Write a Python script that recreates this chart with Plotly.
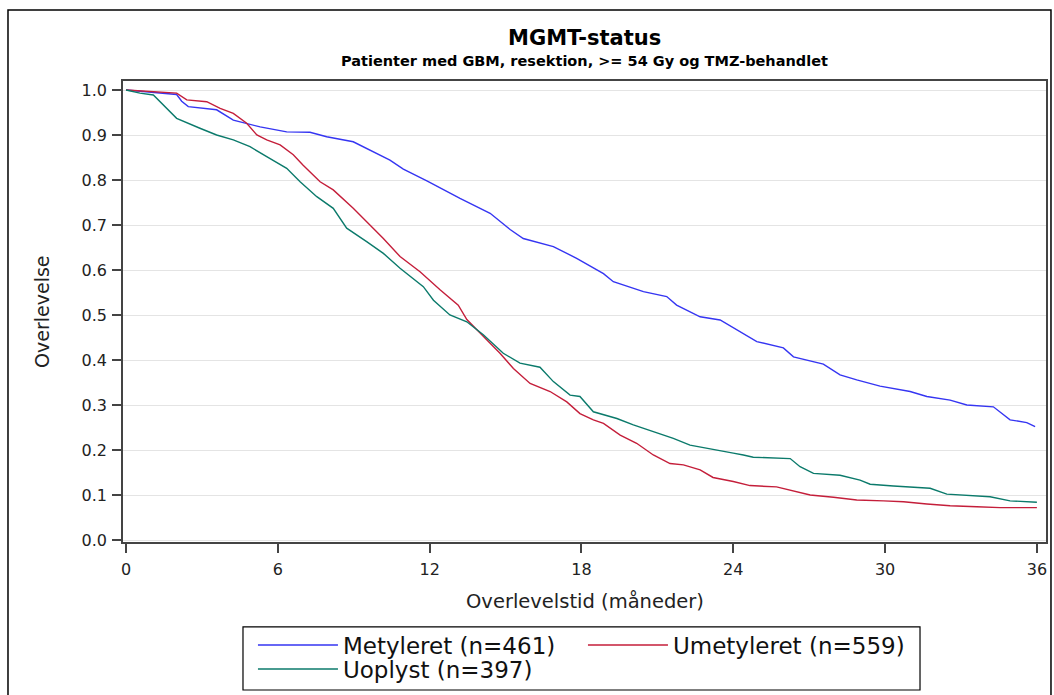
import plotly.graph_objects as go

# Kaplan-Meier survival estimates
blue_name = "Metyleret (n=461)"
blue_t = [0, 2.0, 2.2, 2.46, 3.58, 4.24, 5.3, 6.35, 7.27, 7.93, 8.98, 9.51, 10.43, 10.96, 11.89,
          13.2, 14.39, 15.18, 15.7, 16.89, 17.81, 18.87, 19.26, 20.45, 21.37, 21.76, 22.69, 23.48,
          24.4, 24.93, 25.98, 26.38, 27.56, 28.22, 28.88, 29.8, 30.99, 31.65, 32.57, 33.23, 34.28,
          34.94, 35.6, 35.93]
blue_s = [1.0, 0.990, 0.975, 0.963, 0.956, 0.933, 0.918, 0.907, 0.906, 0.896, 0.885, 0.870, 0.844,
          0.824, 0.798, 0.759, 0.726, 0.690, 0.670, 0.652, 0.626, 0.592, 0.574, 0.552, 0.541, 0.522,
          0.496, 0.489, 0.459, 0.441, 0.427, 0.407, 0.391, 0.367, 0.356, 0.342, 0.330, 0.319, 0.311,
          0.300, 0.296, 0.267, 0.261, 0.252]

red_name = "Umetyleret (n=559)"
red_t = [0, 2.0, 2.4, 3.19, 3.72, 4.24, 4.77, 5.17, 5.56, 6.09, 6.61, 7.0, 7.67, 8.19, 8.98, 9.51,
         10.17, 10.83, 11.62, 12.41, 13.13, 13.47, 14.0, 14.78, 15.31, 15.97, 16.76, 17.42, 17.94,
         18.47, 18.87, 19.53, 20.18, 20.84, 21.5, 22.03, 22.69, 23.2, 24.0, 24.66, 25.71, 26.5,
         27.04, 27.96, 28.88, 29.94, 30.73, 31.65, 32.57, 33.62, 34.55, 36.0]
red_s = [1.0, 0.993, 0.978, 0.974, 0.959, 0.948, 0.926, 0.900, 0.889, 0.878, 0.856, 0.833, 0.796,
         0.778, 0.737, 0.707, 0.670, 0.630, 0.596, 0.556, 0.522, 0.490, 0.459, 0.415, 0.381, 0.348,
         0.330, 0.307, 0.281, 0.267, 0.259, 0.233, 0.215, 0.189, 0.170, 0.167, 0.156, 0.139, 0.130,
         0.121, 0.118, 0.107, 0.100, 0.095, 0.089, 0.087, 0.085, 0.080, 0.076, 0.074, 0.072, 0.072]

green_name = "Uoplyst (n=397)"
green_t = [0, 0.55, 1.08, 1.6, 2.0, 2.92, 3.58, 4.24, 4.9, 5.56, 6.35, 6.88, 7.54, 8.19, 8.72, 9.51,
           10.17, 10.83, 11.75, 12.15, 12.8, 13.47, 14.12, 14.91, 15.57, 16.36, 16.89, 17.55, 17.94,
           18.47, 19.4, 20.05, 20.84, 21.63, 22.29, 23.08, 24.0, 24.4, 24.79, 26.25, 26.64, 27.17,
           28.22, 29.01, 29.41, 30.33, 31.78, 32.44, 34.15, 34.94, 36.0]
green_s = [1.0, 0.993, 0.989, 0.959, 0.937, 0.915, 0.900, 0.889, 0.874, 0.852, 0.826, 0.796, 0.763,
           0.737, 0.693, 0.663, 0.637, 0.604, 0.563, 0.533, 0.500, 0.485, 0.456, 0.415, 0.393, 0.384,
           0.352, 0.322, 0.319, 0.285, 0.270, 0.256, 0.241, 0.226, 0.211, 0.202, 0.193, 0.189, 0.184,
           0.181, 0.163, 0.148, 0.144, 0.133, 0.124, 0.120, 0.115, 0.102, 0.096, 0.087, 0.084]

x_ticks = [0, 6, 12, 18, 24, 30, 36]
y_ticks = [0.0, 0.1, 0.2, 0.3, 0.4, 0.5, 0.6, 0.7, 0.8, 0.9, 1.0]
y_tick_labels = ["0.0", "0.1", "0.2", "0.3", "0.4", "0.5", "0.6", "0.7", "0.8", "0.9", "1.0"]

title = "MGMT-status"
subtitle = "Patienter med GBM, resektion, >= 54 Gy og TMZ-behandlet"
x_title = "Overlevelstid (måneder)"
y_title = "Overlevelse"

FONT = "DejaVu Sans"

fig = go.Figure()
for name, t, s, col, leg in [(blue_name, blue_t, blue_s, "#3535f2", "legend"),
                             (red_name, red_t, red_s, "#c41e3a", "legend"),
                             (green_name, green_t, green_s, "#0b7a6b", "legend2")]:
    fig.add_trace(go.Scatter(x=t, y=s, mode="lines", name=name, legend=leg,
                             line=dict(color=col, width=1.4)))

legend_common = dict(orientation="h", xanchor="left", yanchor="middle",
                     borderwidth=0, bgcolor="rgba(0,0,0,0)",
                     font=dict(family=FONT, size=23, color="#111"),
                     itemwidth=80, entrywidth=235, traceorder="normal")

fig.update_layout(
    width=1054, height=695,
    margin=dict(l=123, r=8, t=81, b=153, autoexpand=False),
    paper_bgcolor="white", plot_bgcolor="white",
    font=dict(family=FONT, color="#222"),
    showlegend=True,
    legend=dict(x=0.1408, y=-0.2234, **legend_common),
    legend2=dict(x=0.1408, y=-0.2755, **legend_common),
    xaxis=dict(range=[-0.12, 36.36], tickvals=x_ticks, ticktext=[str(v) for v in x_ticks],
               ticks="outside", ticklen=9, tickcolor="#444", tickwidth=1.5,
               ticklabelstandoff=3,
               showline=True, linecolor="#444", linewidth=1.5, mirror=True,
               showgrid=False, zeroline=False,
               tickfont=dict(family=FONT, size=16, color="#222")),
    yaxis=dict(range=[-0.0044, 1.02], tickvals=y_ticks, ticktext=y_tick_labels,
               ticks="outside", ticklen=9, tickcolor="#444", tickwidth=1.5,
               ticklabelstandoff=2,
               showline=True, linecolor="#444", linewidth=1.5, mirror=True,
               showgrid=True, gridcolor="#e4e4e4", gridwidth=1, zeroline=False,
               tickfont=dict(family=FONT, size=16, color="#222")),
    annotations=[
        dict(text="<b>" + title + "</b>", xref="paper", yref="paper", x=0.5, y=1.093,
             xanchor="center", yanchor="middle",
             showarrow=False, font=dict(family=FONT, size=21, color="black")),
        dict(text="<b>" + subtitle + "</b>", xref="paper", yref="paper", x=0.5, y=1.043,
             xanchor="center", yanchor="middle",
             showarrow=False, font=dict(family=FONT, size=14.5, color="black")),
        dict(text=x_title, xref="paper", yref="paper", x=0.5, y=-0.128,
             xanchor="center", yanchor="middle",
             showarrow=False, font=dict(family=FONT, size=19.5, color="#222")),
        dict(text=y_title, xref="paper", yref="paper", x=-0.0878, y=0.499, textangle=-90,
             xanchor="center", yanchor="middle",
             showarrow=False, font=dict(family=FONT, size=19, color="#222")),
    ],
    shapes=[
        # outer frame of the graphic
        dict(type="rect", xref="paper", yref="paper", x0=-0.1246, x1=1.0054, y0=-0.4, y1=1.154,
             line=dict(color="black", width=1.5), fillcolor="rgba(0,0,0,0)", layer="below"),
        # legend frame
        dict(type="rect", xref="paper", yref="paper", x0=0.130, x1=0.8635, y0=-0.321, y1=-0.184,
             line=dict(color="black", width=1.2), fillcolor="rgba(0,0,0,0)", layer="below"),
    ],
)

fig.write_html("out.html", config={"displayModeBar": False},
               post_script="document.body.style.margin='0';")
